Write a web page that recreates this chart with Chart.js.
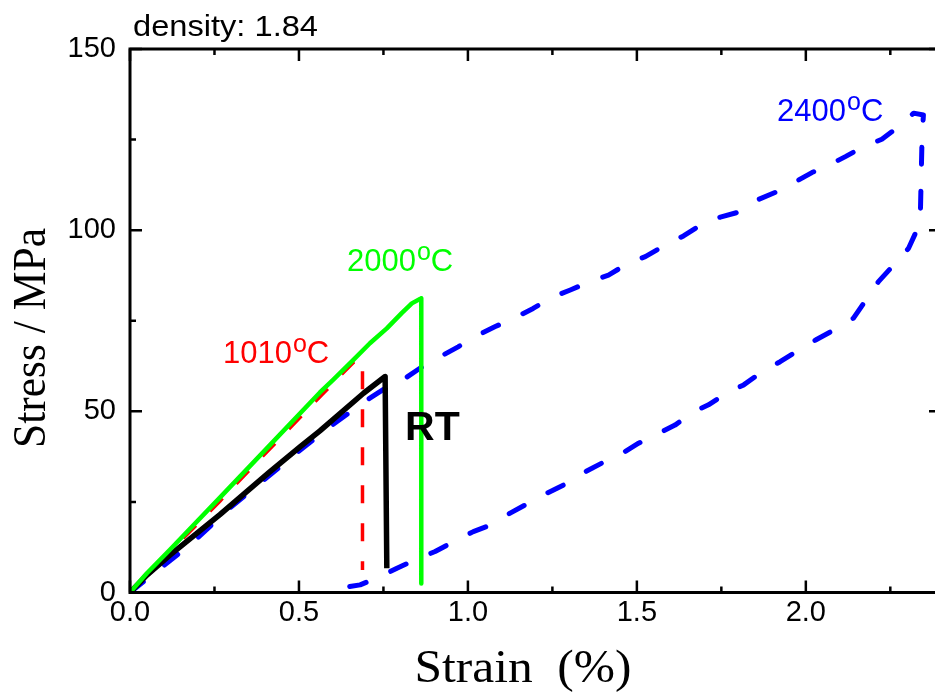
<!DOCTYPE html>
<html>
<head>
<meta charset="utf-8">
<script src="https://cdn.jsdelivr.net/npm/chart.js@4.4.0/dist/chart.umd.min.js"></script>
<style>
  html, body { margin: 0; padding: 0; background: #fff; overflow: hidden; }
  #wrap { width: 935px; height: 693px; overflow: hidden; }
</style>
</head>
<body>
<div id="wrap"><canvas id="chart" width="950" height="693"></canvas></div>
<script>
// stress-strain curves, strain in %, stress in MPa
const strainRT = [0, 0.05, 0.118, 0.266, 0.41, 0.503, 0.562, 0.691, 0.755, 0.760];
const stressRT = [0, 4.8, 10.3, 21.5, 33.0, 40.2, 44.6, 55.0, 59.6, 6.7];

const strain1010 = [0, 0.05, 0.118, 0.266, 0.409, 0.562, 0.622, 0.661, 0.688, 0.688];
const stress1010 = [0, 5.0, 11.2, 25.2, 39.2, 54.0, 59.8, 63.5, 64.3, 6.2];

const strain2000 = [0, 0.05, 0.118, 0.266, 0.409, 0.562, 0.601, 0.661, 0.710, 0.760, 0.804, 0.834, 0.862, 0.862];
const stress2000 = [0, 5.3, 11.8, 26.2, 40.2, 55.2, 58.7, 64.2, 68.8, 72.9, 77.1, 79.8, 81.2, 2.5];

const strain2400 = [
  0, 0.059, 0.183, 0.296, 0.385, 0.5, 0.592, 0.701, 0.749, 0.809, 0.858, 0.918, 0.971,
  1.031, 1.081, 1.145, 1.193, 1.252, 1.303, 1.362, 1.416, 1.475, 1.525, 1.584, 1.638,
  1.697, 1.747, 1.806, 1.855, 1.914, 1.959, 2.018, 2.057, 2.117, 2.166, 2.225, 2.265,
  2.319, 2.348, 2.344, 2.339, 2.329, 2.304, 2.265, 2.215, 2.181, 2.141, 2.092, 2.033,
  1.988, 1.924, 1.875, 1.816, 1.766, 1.712, 1.668, 1.613, 1.564, 1.505, 1.456, 1.396,
  1.347, 1.288, 1.234, 1.174, 1.125, 1.066, 1.016, 0.957, 0.903, 0.853, 0.790, 0.740,
  0.681, 0.602
];
const stress2400 = [
  0, 4.4, 13.6, 23.4, 30.2, 39.0, 45.8, 53.1, 56.0, 58.8, 61.9, 65.1, 67.8,
  71.1, 73.4, 76.1, 78.4, 81.6, 83.5, 85.8, 87.6, 90.9, 92.7, 95.9, 98.4,
  101.9, 103.6, 105.1, 108.3, 110.6, 112.8, 115.9, 117.4, 120.3, 122.8, 125.1, 127.9,
  132.3, 131.8, 125.8, 104.7, 100.1, 95.0, 90.9, 85.8, 81.2, 75.7, 72.9, 69.9,
  67.4, 63.7, 61.2, 57.3, 55.0, 51.8, 49.9, 46.2, 43.9, 41.2, 38.4, 35.7,
  33.3, 29.9, 27.4, 24.4, 21.9, 18.6, 16.8, 14.0, 11.3, 9.4, 6.7, 4.4,
  2.1, 0.9
];

const xTickLabels = ["0.0", "0.5", "1.0", "1.5", "2.0"];
const yTickLabels = ["0", "50", "100", "150"];

const toPoints = (xs, ys) => xs.map((x, i) => ({ x: x, y: ys[i] }));

const sans = "'Liberation Sans', Arial, sans-serif";
const serif = "'Liberation Serif', 'Times New Roman', serif";

// closed frame with inward ticks on all four sides
const frame = {
  id: "frame",
  afterDatasetsDraw(chart) {
    const { ctx, chartArea: a, scales: { x, y } } = chart;
    ctx.save();
    ctx.strokeStyle = "#000";
    ctx.lineWidth = 3;
    ctx.strokeRect(a.left, a.top, a.right - a.left, a.bottom - a.top);
    ctx.lineWidth = 2.5;
    ctx.beginPath();
    for (let i = 0; i * 0.25 <= x.max + 1e-9; i++) {
      const px = x.getPixelForValue(i * 0.25);
      const len = i % 2 === 0 ? 12 : 6;
      ctx.moveTo(px, a.bottom); ctx.lineTo(px, a.bottom - len);
      ctx.moveTo(px, a.top); ctx.lineTo(px, a.top + len);
    }
    for (let i = 0; i * 25 <= y.max; i++) {
      const py = y.getPixelForValue(i * 25);
      const len = i % 2 === 0 ? 12 : 6;
      ctx.moveTo(a.left, py); ctx.lineTo(a.left + len, py);
      ctx.moveTo(a.right, py); ctx.lineTo(a.right - len, py);
    }
    ctx.stroke();
    ctx.restore();
  }
};

function stretchText(ctx, text, cx, cy, width, angle) {
  ctx.save();
  ctx.translate(cx, cy);
  ctx.rotate(angle);
  const w = ctx.measureText(text).width;
  ctx.scale(width / w, 1);
  ctx.textAlign = "center";
  ctx.fillText(text, 0, 0);
  ctx.restore();
}

function tempLabel(ctx, num, x, base, color) {
  ctx.fillStyle = color;
  ctx.textAlign = "left";
  ctx.font = "31px " + sans;
  ctx.fillText(num, x, base);
  let w = ctx.measureText(num).width + 1;
  ctx.font = "25px " + sans;
  ctx.fillText("o", x + w, base - 11);
  w += ctx.measureText("o").width;
  ctx.font = "31px " + sans;
  ctx.fillText("C", x + w, base);
}

const labels = {
  id: "labels",
  afterDraw(chart) {
    const { ctx, scales: { x, y } } = chart;
    ctx.save();
    ctx.textBaseline = "alphabetic";

    tempLabel(ctx, "1010", x.getPixelForValue(0.275), y.getPixelForValue(63.3), "#ff0000");
    tempLabel(ctx, "2000", x.getPixelForValue(0.642), y.getPixelForValue(88.7), "#00ff00");
    tempLabel(ctx, "2400", x.getPixelForValue(1.915), y.getPixelForValue(130.1), "#0000ff");

    ctx.fillStyle = "#000";
    ctx.font = "bold 41px " + sans;
    ctx.textAlign = "left";
    ctx.fillText("RT", x.getPixelForValue(0.814), y.getPixelForValue(42.1));

    ctx.font = "29px " + sans;
    stretchText(ctx, "density: 1.84", 225.5, 36, 185, 0);

    ctx.font = "46px " + serif;
    stretchText(ctx, "Strain  (%)", 523, 682, 217, 0);
    stretchText(ctx, "Stress / MPa", 45, 338, 220, -Math.PI / 2);
    ctx.restore();
  }
};

const ctx = document.getElementById("chart").getContext("2d");

new Chart(ctx, {
  type: "line",
  data: {
    datasets: [
      { data: toPoints(strain2000, stress2000), borderColor: "#00ff00", borderWidth: 4.5 },
      { data: toPoints(strainRT, stressRT), borderColor: "#000000", borderWidth: 5.5 },
      { data: toPoints(strain1010, stress1010), borderColor: "#ff0000", borderWidth: 3.5, borderDash: [18, 20] },
      { data: toPoints(strain2400, stress2400), borderColor: "#0000ff", borderWidth: 5, borderDash: [17, 27], borderCapStyle: "round" }
    ]
  },
  options: {
    responsive: false,
    animation: false,
    devicePixelRatio: 1,
    layout: { padding: { left: 0, top: 49, right: 9, bottom: 0 } },
    elements: {
      point: { radius: 0 },
      line: { tension: 0, fill: false, borderJoinStyle: "round" }
    },
    plugins: { legend: { display: false }, tooltip: { enabled: false } },
    scales: {
      x: {
        type: "linear",
        min: 0,
        max: 2.4,
        afterFit: s => { s.height = 100.5; },
        grid: { display: false, drawTicks: false },
        border: { display: false },
        ticks: {
          stepSize: 0.5,
          includeBounds: false,
          autoSkip: false,
          maxRotation: 0,
          padding: 3,
          color: "#000",
          font: { family: sans, size: 29 },
          callback: (v, i) => xTickLabels[i]
        }
      },
      y: {
        type: "linear",
        min: 0,
        max: 150,
        afterFit: s => { s.width = 130; },
        grid: { display: false, drawTicks: false },
        border: { display: false },
        ticks: {
          stepSize: 50,
          includeBounds: false,
          padding: 14,
          color: "#000",
          font: { family: sans, size: 29 },
          callback: (v, i) => yTickLabels[i]
        }
      }
    }
  },
  plugins: [frame, labels]
});
</script>
</body>
</html>
